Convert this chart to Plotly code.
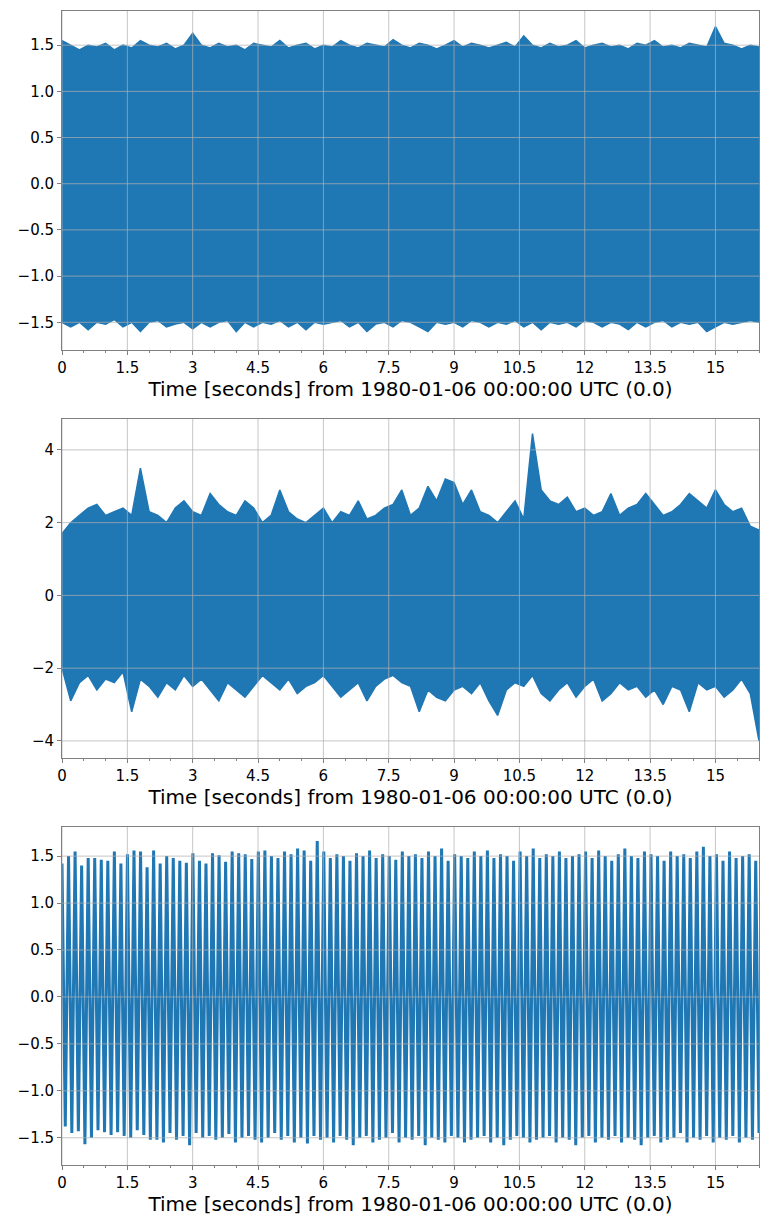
import plotly.graph_objects as go
from plotly.subplots import make_subplots

# envelope samples every 0.2 s (0..16 s)
p1_upper = [1.55,1.5,1.45,1.5,1.48,1.52,1.45,1.5,1.47,1.55,1.5,1.48,1.52,1.46,1.5,1.63,1.5,1.47,1.52,1.48,
            1.5,1.45,1.52,1.5,1.48,1.55,1.47,1.5,1.52,1.46,1.5,1.48,1.55,1.5,1.47,1.52,1.5,1.48,1.56,1.5,
            1.47,1.52,1.5,1.46,1.5,1.55,1.48,1.52,1.5,1.47,1.5,1.53,1.48,1.6,1.5,1.47,1.52,1.48,1.5,1.55,
            1.47,1.5,1.52,1.48,1.5,1.46,1.52,1.5,1.55,1.48,1.5,1.47,1.52,1.5,1.48,1.7,1.52,1.5,1.46,1.5,1.48]
p1_lower = [-1.5,-1.55,-1.5,-1.58,-1.5,-1.52,-1.47,-1.55,-1.5,-1.6,-1.5,-1.48,-1.55,-1.52,-1.5,-1.57,-1.5,-1.55,-1.5,-1.48,
            -1.6,-1.5,-1.55,-1.5,-1.52,-1.48,-1.55,-1.5,-1.58,-1.5,-1.52,-1.5,-1.48,-1.55,-1.5,-1.6,-1.52,-1.5,-1.55,-1.48,
            -1.5,-1.55,-1.6,-1.5,-1.52,-1.5,-1.55,-1.48,-1.5,-1.55,-1.5,-1.52,-1.48,-1.55,-1.5,-1.58,-1.5,-1.52,-1.5,-1.55,
            -1.48,-1.5,-1.55,-1.5,-1.52,-1.58,-1.5,-1.55,-1.5,-1.48,-1.55,-1.5,-1.52,-1.5,-1.6,-1.55,-1.5,-1.52,-1.5,-1.48,-1.5]
p2_upper = [1.7,2.0,2.2,2.4,2.5,2.2,2.3,2.4,2.2,3.5,2.3,2.2,2.0,2.4,2.6,2.3,2.2,2.8,2.5,2.3,
            2.2,2.6,2.4,2.0,2.2,2.9,2.3,2.1,2.0,2.2,2.4,2.0,2.3,2.2,2.6,2.1,2.2,2.4,2.5,2.9,
            2.2,2.4,3.0,2.6,3.2,3.1,2.5,2.9,2.3,2.2,2.0,2.3,2.6,2.1,4.45,2.9,2.6,2.5,2.7,2.3,
            2.4,2.2,2.3,2.8,2.2,2.4,2.5,2.8,2.5,2.2,2.3,2.5,2.8,2.6,2.4,2.9,2.5,2.3,2.4,1.9,1.8]
p2_lower = [-2.0,-2.9,-2.4,-2.2,-2.6,-2.3,-2.4,-2.1,-3.2,-2.3,-2.5,-2.8,-2.4,-2.6,-2.2,-2.5,-2.3,-2.6,-2.9,-2.4,
            -2.6,-2.8,-2.5,-2.2,-2.4,-2.6,-2.3,-2.7,-2.5,-2.4,-2.2,-2.5,-2.8,-2.6,-2.4,-2.9,-2.5,-2.3,-2.2,-2.4,
            -2.5,-3.2,-2.6,-2.8,-2.9,-2.6,-2.5,-2.7,-2.4,-2.9,-3.3,-2.6,-2.4,-2.5,-2.2,-2.7,-2.9,-2.6,-2.4,-2.8,
            -2.5,-2.3,-2.9,-2.7,-2.4,-2.6,-2.5,-2.8,-2.6,-3.0,-2.5,-2.6,-3.2,-2.4,-2.6,-2.5,-2.8,-2.6,-2.3,-2.7,-4.0]
# oscillation peaks (panel 3), ~107 cycles over 16 s
p3_max = [1.42,1.5,1.55,1.4,1.48,1.48,1.46,1.45,1.55,1.42,1.52,1.56,1.55,1.38,1.56,1.42,1.5,1.48,1.45,1.43,
          1.53,1.45,1.42,1.53,1.51,1.44,1.55,1.53,1.52,1.47,1.55,1.56,1.5,1.48,1.55,1.52,1.58,1.56,1.45,1.66,
          1.55,1.48,1.52,1.5,1.45,1.53,1.5,1.56,1.48,1.52,1.5,1.46,1.55,1.5,1.52,1.48,1.55,1.5,1.58,1.45,
          1.52,1.5,1.48,1.55,1.5,1.56,1.48,1.52,1.5,1.45,1.55,1.5,1.58,1.48,1.52,1.5,1.55,1.48,1.5,1.52,
          1.55,1.48,1.56,1.5,1.45,1.52,1.58,1.5,1.48,1.55,1.52,1.5,1.45,1.55,1.5,1.52,1.48,1.55,1.6,1.5,
          1.52,1.45,1.55,1.48,1.5,1.52,1.45]
p3_min = [-1.38,-1.45,-1.43,-1.57,-1.5,-1.42,-1.44,-1.47,-1.44,-1.48,-1.5,-1.42,-1.47,-1.52,-1.52,-1.55,-1.45,-1.52,-1.48,-1.58,
          -1.45,-1.5,-1.48,-1.52,-1.5,-1.46,-1.55,-1.5,-1.48,-1.52,-1.55,-1.5,-1.45,-1.52,-1.48,-1.55,-1.5,-1.56,-1.48,-1.52,
          -1.5,-1.55,-1.48,-1.52,-1.58,-1.5,-1.48,-1.55,-1.52,-1.5,-1.45,-1.55,-1.5,-1.52,-1.48,-1.58,-1.5,-1.52,-1.55,-1.48,
          -1.5,-1.55,-1.52,-1.5,-1.48,-1.55,-1.5,-1.58,-1.52,-1.48,-1.5,-1.55,-1.52,-1.5,-1.48,-1.55,-1.5,-1.52,-1.58,-1.5,
          -1.48,-1.55,-1.5,-1.52,-1.48,-1.55,-1.5,-1.52,-1.58,-1.5,-1.48,-1.55,-1.52,-1.5,-1.45,-1.55,-1.5,-1.52,-1.48,-1.55,
          -1.5,-1.52,-1.48,-1.55,-1.5,-1.52,-1.45]
tick_vals = [0, 1.5, 3, 4.5, 6, 7.5, 9, 10.5, 12, 13.5, 15]
tick_text = ["0", "1.5", "3", "4.5", "6", "7.5", "9", "10.5", "12", "13.5", "15"]
xtitle = "Time [seconds] from 1980-01-06 00:00:00 UTC (0.0)"
T_END = 16.0
C = "#1f77b4"
GRID = "rgba(176,176,176,0.9)"
OFF = 7  # page offset compensation (px)

fig = make_subplots(rows=3, cols=1, vertical_spacing=0.0)

def band(up, lo, row):
    n = len(up)
    t = [T_END * i / (n - 1) for i in range(n)]
    fig.add_trace(go.Scatter(x=t, y=lo, mode="lines", line=dict(color=C, width=1.5)), row=row, col=1)
    fig.add_trace(go.Scatter(x=t, y=up, mode="lines", line=dict(color=C, width=1.5),
                             fill="tonexty", fillcolor=C), row=row, col=1)

band(p1_upper, p1_lower, 1)
band(p2_upper, p2_lower, 2)

ys = []
for a, b in zip(p3_max, p3_min):
    ys += [a, b]
t3 = [T_END * i / (len(ys) - 1) for i in range(len(ys))]
fig.add_trace(go.Scatter(x=t3, y=ys, mode="lines", line=dict(color=C, width=3)), row=3, col=1)

H = 1228
doms = [(1 - (349 - OFF)/H, 1 - (10 - OFF)/H), (1 - (757 - OFF)/H, 1 - (418 - OFF)/H),
        (1 - (1164 - OFF)/H, 1 - (826 - OFF)/H)]
yr = [(-1.80, 1.87), (-4.47, 4.85), (-1.79, 1.81)]
ytv = [[-1.5, -1.0, -0.5, 0.0, 0.5, 1.0, 1.5], [-4, -2, 0, 2, 4], [-1.5, -1.0, -0.5, 0.0, 0.5, 1.0, 1.5]]
ytt = [["−1.5", "−1.0", "−0.5", "0.0", "0.5", "1.0", "1.5"], ["−4", "−2", "0", "2", "4"],
       ["−1.5", "−1.0", "−0.5", "0.0", "0.5", "1.0", "1.5"]]
for i in range(3):
    r = i + 1
    xa = "x" if r == 1 else f"x{r}"
    ya = "y" if r == 1 else f"y{r}"
    fig.update_xaxes(row=r, col=1, range=[0, T_END], tickvals=tick_vals, ticktext=tick_text,
                     showgrid=False, showline=True, mirror=True,
                     linecolor="#808080", ticks="outside", ticklen=4, tickcolor="#808080",
                     minor=dict(dtick=0.5, ticks="outside", ticklen=2, tickcolor="#808080", showgrid=False),
                     title=dict(text=xtitle, font=dict(size=20), standoff=4), zeroline=False,
                     tickfont=dict(size=15), automargin=False)
    fig.update_yaxes(row=r, col=1, range=list(yr[i]), domain=list(doms[i]), tickvals=ytv[i], ticktext=ytt[i],
                     showgrid=False, showline=True, mirror=True,
                     linecolor="#808080", ticks="outside", ticklen=4, tickcolor="#808080", zeroline=False,
                     tickfont=dict(size=15), automargin=False)
    for tv in tick_vals:
        fig.add_shape(type="line", xref=xa, yref=f"{ya} domain", x0=tv, x1=tv, y0=0, y1=1,
                      line=dict(color=GRID, width=0.8), layer="above")
    for tv in ytv[i]:
        fig.add_shape(type="line", xref=f"{xa} domain", yref=ya, x0=0, x1=1, y0=tv, y1=tv,
                      line=dict(color=GRID, width=0.8), layer="above")

fig.update_layout(width=768, height=H, margin=dict(l=61 - OFF, r=10 + OFF, t=0, b=0),
                  paper_bgcolor="white", plot_bgcolor="white", showlegend=False,
                  font=dict(family="DejaVu Sans", color="black"))
fig.write_html("out.html")
